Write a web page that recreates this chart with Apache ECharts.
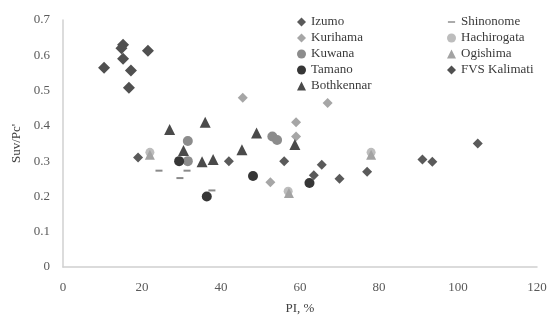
<!DOCTYPE html>
<html><head><meta charset="utf-8">
<script src="https://cdn.jsdelivr.net/npm/echarts@6/dist/echarts.min.js"></script>
<style>html,body{margin:0;padding:0;background:#fff}#c{width:550px;height:320px}</style>
</head><body><div id="c"></div>
<script>
const xTicks = [0, 20, 40, 60, 80, 100, 120];
const yTicks = [0, 0.1, 0.2, 0.3, 0.4, 0.5, 0.6, 0.7];
const izumo = [[19,0.31],[42,0.30],[56,0.30],[65.5,0.29],[63.5,0.26],[70,0.25],[77,0.27],[91,0.305],[93.5,0.298],[105,0.35]];
const shinonome = [[24.3,0.273],[31.4,0.273],[29.6,0.252],[37.7,0.217]];
const kurihama = [[45.5,0.48],[67,0.465],[59,0.41],[59,0.37],[52.5,0.24]];
const hachirogata = [[22,0.325],[57,0.215],[78,0.325]];
const kuwana = [[31.6,0.357],[31.6,0.30],[53,0.37],[54.2,0.36]];
const ogishima = [[22,0.318],[57.2,0.21],[78,0.318]];
const tamano = [[29.4,0.30],[36.4,0.20],[48.1,0.258],[62.4,0.238]];
const kalimati = [[15.2,0.63],[14.8,0.62],[21.5,0.613],[15.2,0.59],[10.4,0.565],[17.2,0.557],[16.7,0.508]];
const bothkennar = [[27,0.39],[36,0.41],[30.5,0.33],[35.2,0.298],[38,0.305],[45.3,0.332],[49,0.38],[58.7,0.347]];

const dashPath = 'path://M0,0M10,10M1,4.2h8v1.6h-8z';
const serif = 'Liberation Serif';
const series = [
  {name:'Izumo', data:izumo, symbol:'diamond', symbolSize:10, color:'#5a5a5a'},
  {name:'Shinonome', data:shinonome, symbol:'rect', symbolSize:[7,2], color:'#8a8a8a'},
  {name:'Kurihama', data:kurihama, symbol:'diamond', symbolSize:10, color:'#a6a6a6'},
  {name:'Hachirogata', data:hachirogata, symbol:'circle', symbolSize:9, color:'#bdbdbd'},
  {name:'Kuwana', data:kuwana, symbol:'circle', symbolSize:10, color:'#8c8c8c'},
  {name:'Ogishima', data:ogishima, symbol:'triangle', symbolSize:10, color:'#a3a3a3'},
  {name:'Tamano', data:tamano, symbol:'circle', symbolSize:10, color:'#363636'},
  {name:'FVS Kalimati', data:kalimati, symbol:'diamond', symbolSize:12, color:'#505050'},
  {name:'Bothkennar', data:bothkennar, symbol:'triangle', symbolSize:11, color:'#4a4a4a'}
].map(s => ({type:'scatter', name:s.name, data:s.data, symbol:s.symbol, symbolSize:s.symbolSize,
  itemStyle:{color:s.color, opacity:1}, emphasis:{disabled:true}}));

const legendText = {fontFamily:serif, fontSize:13, color:'#3a3a3a', lineHeight:16};
function legendData(names){
  return names.map(n => n==='Shinonome' ? {name:n, icon:dashPath} : {name:n});
}
const chart = echarts.init(document.getElementById('c'), null, {renderer:'canvas'});
chart.setOption({
  animation:false,
  backgroundColor:'#fff',
  grid:{left:63, right:13, top:20, bottom:45, containLabel:false},
  legend:[
    {orient:'vertical', left:292, top:9, itemGap:0, itemWidth:9, itemHeight:9,
     textStyle:legendText, data:legendData(['Izumo','Kurihama','Kuwana','Tamano','Bothkennar']), selectedMode:false},
    {orient:'vertical', left:442, top:9, itemGap:0, itemWidth:9, itemHeight:9,
     textStyle:legendText, data:legendData(['Shinonome','Hachirogata','Ogishima','FVS Kalimati']), selectedMode:false}
  ],
  xAxis:{type:'value', min:xTicks[0], max:xTicks[xTicks.length-1], interval:20,
    name:'PI, %', nameLocation:'middle', nameGap:35,
    nameTextStyle:{fontFamily:serif, fontSize:13, color:'#404040'},
    axisLine:{show:true, lineStyle:{color:'#d0d0d0', width:1.5}}, axisTick:{show:false},
    splitLine:{show:false},
    axisLabel:{fontFamily:serif, fontSize:13, color:'#595959', margin:14}},
  yAxis:{type:'value', min:yTicks[0], max:yTicks[yTicks.length-1], interval:0.1,
    name:"Suv/Pc'", nameLocation:'middle', nameGap:34,
    nameTextStyle:{fontFamily:serif, fontSize:13, color:'#404040'},
    axisLine:{show:true, lineStyle:{color:'#d0d0d0', width:1.5}}, axisTick:{show:false},
    splitLine:{show:false},
    axisLabel:{fontFamily:serif, fontSize:13, color:'#595959', margin:13,
      formatter:v => String(Math.round(v*10)/10)}},
  series:series
});
</script></body></html>
